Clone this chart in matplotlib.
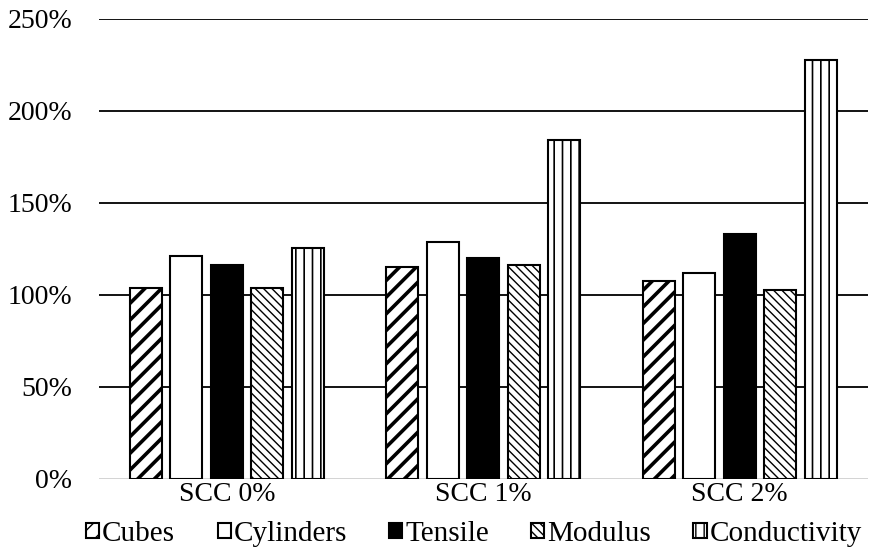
import matplotlib
matplotlib.use("Agg")
import matplotlib.pyplot as plt
import numpy as np
from matplotlib.ticker import FuncFormatter

categories = ["SCC 0%", "SCC 1%", "SCC 2%"]
series_names = ["Cubes", "Cylinders", "Tensile", "Modulus", "Conductivity"]
cubes = [103.7, 115.0, 107.5]
cylinders = [120.9, 128.8, 111.7]
tensile = [116.4, 120.2, 133.0]
modulus = [103.5, 116.2, 102.7]
conductivity = [125.6, 184.1, 227.3]
yticks = [0, 50, 100, 150, 200, 250]

plt.rcParams["font.family"] = ["Liberation Serif", "DejaVu Serif"]

fig = plt.figure(figsize=(8.82, 5.49), dpi=100)
ax = fig.add_axes([0.112, 0.128, 0.872, 0.838])

values = [cubes, cylinders, tensile, modulus, conductivity]
styles = [
    dict(facecolor="white", hatch="//", hlw=2.6),
    dict(facecolor="white", hatch=None, hlw=1.0),
    dict(facecolor="black", hatch=None, hlw=1.0),
    dict(facecolor="white", hatch="\\\\\\\\", hlw=1.0),
    dict(facecolor="white", hatch="||", hlw=1.2),
]

x = np.arange(len(categories))
step = 0.158
width = 0.125
for i, (name, vals, st) in enumerate(zip(series_names, values, styles)):
    offs = (i - 2) * step
    bars = ax.bar(x + offs, vals, width, facecolor=st["facecolor"], edgecolor="black",
                  linewidth=1.5, hatch=st["hatch"], label=name, zorder=3)
    for p in bars:
        if hasattr(p, "set_hatch_linewidth"):
            p.set_hatch_linewidth(st["hlw"])

ax.set_ylim(0, 250)
ax.set_xlim(-0.5, 2.5)
ax.set_yticks(yticks)
ax.yaxis.set_major_formatter(FuncFormatter(lambda v, _: f"{int(v)}%"))
ax.set_xticks(x)
ax.set_xticklabels(categories)
ax.tick_params(axis="both", length=0, labelsize=20)
ax.tick_params(axis="y", pad=19)
ax.tick_params(axis="x", pad=2)
for s in ax.spines.values():
    s.set_visible(False)
for t in yticks[1:]:
    ax.axhline(t, color="black", linewidth=1.3, zorder=1)
ax.axhline(0, color="#d0d0d0", linewidth=1.3, zorder=1)

leg = fig.legend(*ax.get_legend_handles_labels(), loc="center",
                 bbox_to_anchor=(474 / 882, 1 - 534 / 549), ncol=5, frameon=False,
                 fontsize=21, handlelength=0.45, handleheight=0.45, handletextpad=0.1,
                 columnspacing=1.45, borderpad=0, borderaxespad=0)

fig.savefig("out.png", dpi=100)
